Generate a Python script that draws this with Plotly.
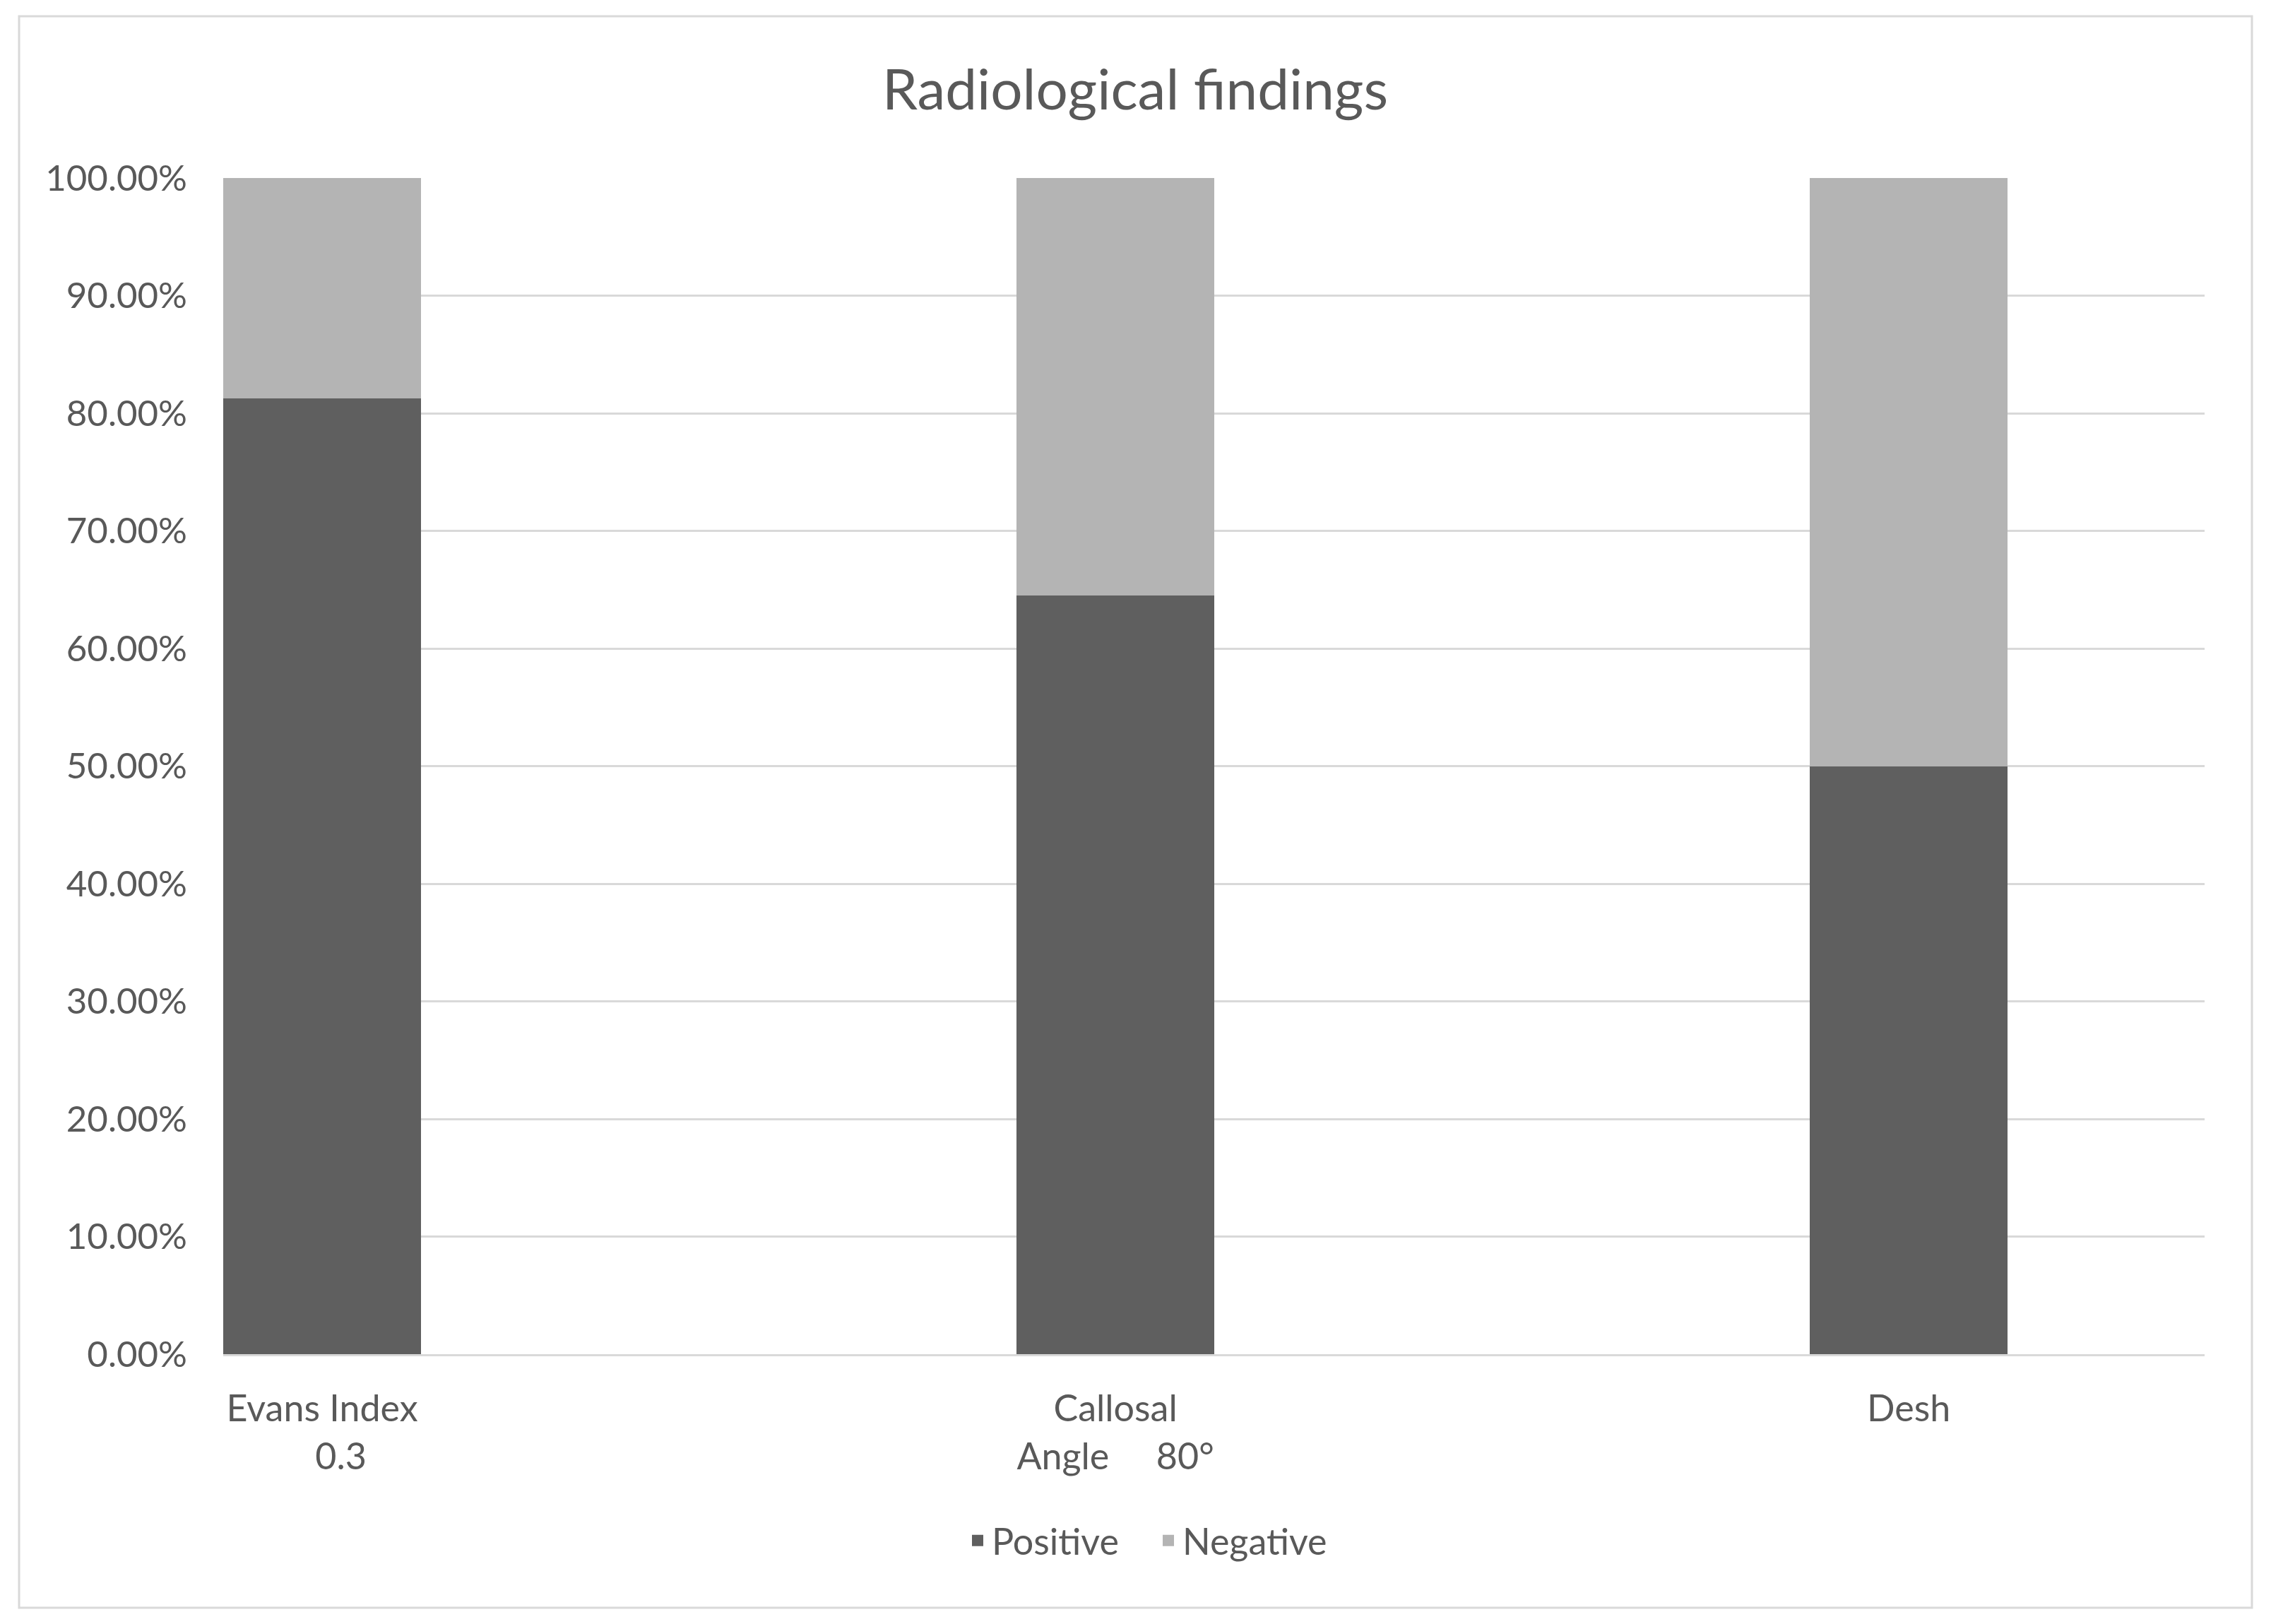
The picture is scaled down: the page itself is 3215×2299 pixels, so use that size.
import plotly.graph_objects as go

categories = ["Evans Index", "Callosal Angle", "Desh"]
tick_labels = [
    "Evans Index<br>\u00a0\u00a0\u00a0\u00a00.3",
    "Callosal<br>Angle\u00a0\u00a0\u00a0\u00a0\u00a080°",
    "Desh",
]
series_names = ["Positive", "Negative"]
positive = [0.8125, 0.645, 0.50]
negative = [0.1875, 0.355, 0.50]
y_ticks = [0.0, 0.1, 0.2, 0.3, 0.4, 0.5, 0.6, 0.7, 0.8, 0.9, 1.0]

TEXT = "#595959"
FONT = "Lato"
COLORS = ["#5f5f5f", "#b4b4b4"]

# page body has an 8px margin: compensate so absolute positions match
OFF = 8
W, H = 3215 - OFF, 2299 - OFF
PLOT_L, PLOT_R, PLOT_T, PLOT_B = 316, 3121, 252, 1917  # absolute page px
L = PLOT_L - OFF
T = PLOT_T - OFF
R = W - (PLOT_R - OFF)
B = H - (PLOT_B - OFF)
PW, PH = PLOT_R - PLOT_L, PLOT_B - PLOT_T


def px2x(px):
    return (px - PLOT_L) / PW


def py2y(py):
    return (PLOT_B - py) / PH


fig = go.Figure()
for name, vals, col in zip(series_names, [positive, negative], COLORS):
    fig.add_trace(go.Bar(
        x=categories, y=vals, name=name, width=0.25,
        marker=dict(color=col, line=dict(width=0)),
        legendgroup=name, showlegend=False,
    ))
    # legend entry with a square swatch
    fig.add_trace(go.Scatter(
        x=[None], y=[None], mode="markers", name=name,
        legendgroup=name, showlegend=True,
        marker=dict(symbol="square", size=29, color=col, line=dict(width=0)),
    ))

fig.update_layout(
    width=W, height=H,
    barmode="stack",
    paper_bgcolor="white", plot_bgcolor="white",
    margin=dict(l=L, r=R, t=T, b=B, pad=0),
    font=dict(family=FONT, size=52, color=TEXT),
    title=dict(
        text="Radiological findings",
        x=(1607 - OFF) / W, xref="container", xanchor="center",
        y=1 - (127 - OFF) / H, yref="container", yanchor="middle",
        font=dict(family=FONT, size=80, color=TEXT),
    ),
    legend=dict(
        orientation="h",
        x=px2x(1634), xanchor="center",
        y=py2y(2181), yanchor="middle",
        font=dict(family=FONT, size=52, color=TEXT),
        traceorder="normal",
        itemsizing="trace",
        itemwidth=30,
        entrywidth=225,
    ),
    showlegend=True,
    bargap=0,
)

fig.update_xaxes(
    type="category",
    range=[-0.1247, 2.373],
    tickmode="array",
    tickvals=categories,
    ticktext=tick_labels,
    showgrid=False,
    showline=True, linecolor="#d9d9d9", linewidth=3,
    ticks="",
    ticklabelstandoff=30,
    tickfont=dict(family=FONT, size=52, color=TEXT),
)
fig.update_yaxes(
    range=[0, 1],
    tickmode="array",
    tickvals=y_ticks,
    tickformat=".2%",
    showgrid=True, gridcolor="#d9d9d9", gridwidth=3,
    zeroline=False,
    showline=False,
    ticks="",
    ticklabelstandoff=50,
    tickfont=dict(family=FONT, size=51, color=TEXT),
)

fig.add_shape(
    type="rect", xref="paper", yref="paper",
    x0=px2x(27), x1=px2x(3188), y0=py2y(2276), y1=py2y(23),
    line=dict(color="#d9d9d9", width=3), fillcolor="rgba(0,0,0,0)",
    layer="below",
)

fig.write_html("out.html")
